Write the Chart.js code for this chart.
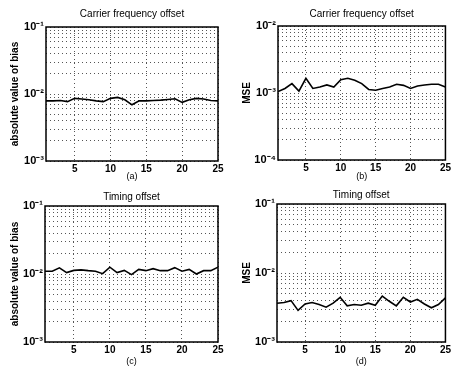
<!DOCTYPE html>
<html>
<head>
<meta charset="utf-8">
<script src="https://cdn.jsdelivr.net/npm/chart.js@4/dist/chart.umd.min.js"></script>
<style>
  html, body { margin: 0; padding: 0; background: #fff; }
  #wrap { position: relative; width: 453px; height: 367px; overflow: hidden; }
  canvas { position: absolute; }
</style>
</head>
<body>
<div id="wrap">
  <canvas id="pa" width="226" height="183" style="left:0;top:0"></canvas>
  <canvas id="pb" width="227" height="183" style="left:226px;top:0"></canvas>
  <canvas id="pc" width="226" height="184" style="left:0;top:183px"></canvas>
  <canvas id="pd" width="227" height="184" style="left:226px;top:183px"></canvas>
</div>
<script>
// data
const snr = [1,2,3,4,5,6,7,8,9,10,11,12,13,14,15,16,17,18,19,20,21,22,23,24,25];
const xTicks = [5, 10, 15, 20, 25];

const cfoBias = [7.9e-3, 7.9e-3, 8.0e-3, 7.7e-3, 8.6e-3, 8.4e-3, 8.2e-3, 7.9e-3, 7.7e-3, 8.6e-3,
                 8.9e-3, 8.2e-3, 6.9e-3, 7.9e-3, 7.9e-3, 8.0e-3, 8.1e-3, 8.3e-3, 8.5e-3, 7.5e-3,
                 8.2e-3, 8.6e-3, 8.4e-3, 8.0e-3, 7.9e-3];
const cfoMse = [1.05e-3, 1.17e-3, 1.38e-3, 1.07e-3, 1.66e-3, 1.17e-3, 1.23e-3, 1.32e-3, 1.23e-3, 1.58e-3,
                1.66e-3, 1.55e-3, 1.38e-3, 1.13e-3, 1.10e-3, 1.17e-3, 1.23e-3, 1.35e-3, 1.30e-3, 1.17e-3,
                1.27e-3, 1.32e-3, 1.35e-3, 1.35e-3, 1.23e-3];
const timBias = [1.10e-2, 1.10e-2, 1.23e-2, 1.05e-2, 1.13e-2, 1.15e-2, 1.12e-2, 1.10e-2, 1.01e-2, 1.26e-2,
                 1.05e-2, 1.13e-2, 0.98e-2, 1.17e-2, 1.12e-2, 1.20e-2, 1.12e-2, 1.12e-2, 1.24e-2, 1.10e-2,
                 1.17e-2, 1.00e-2, 1.12e-2, 1.12e-2, 1.26e-2];
const timMse = [3.65e-3, 3.73e-3, 3.98e-3, 2.87e-3, 3.56e-3, 3.73e-3, 3.49e-3, 3.19e-3, 3.65e-3, 4.44e-3,
                3.34e-3, 3.49e-3, 3.41e-3, 3.65e-3, 3.41e-3, 4.64e-3, 3.89e-3, 3.34e-3, 4.44e-3, 3.80e-3,
                4.16e-3, 3.56e-3, 3.13e-3, 3.49e-3, 4.35e-3];

const FONT = '"Liberation Sans", Arial, Helvetica, sans-serif';
const SUP = { '-': '\u207B', '0': '\u2070', '1': '\u00B9', '2': '\u00B2', '3': '\u00B3', '4': '\u2074' };

function powLabel(v) {
    const e = Math.log10(v);
    if (Math.abs(e - Math.round(e)) > 1e-6) return '';
    return '10' + String(Math.round(e)).split('').map(c => SUP[c]).join('');
}

// black box round the plot area
const boxPlugin = {
    id: 'box',
    afterDatasetsDraw(chart) {
        const a = chart.chartArea, ctx = chart.ctx;
        ctx.save();
        ctx.strokeStyle = '#000';
        ctx.lineWidth = 1.5;
        ctx.strokeRect(a.left, a.top, a.right - a.left, a.bottom - a.top);
        ctx.restore();
    }
};

function makePanel(id, p) {
    const pts = snr.map((x, i) => ({ x: x, y: p.values[i] }));
    const gridOpts = { color: '#555', lineWidth: 1, drawTicks: false };
    return new Chart(document.getElementById(id), {
        type: 'line',
        data: { datasets: [{ data: pts, borderColor: '#000', borderWidth: 1.6, pointRadius: 0, tension: 0, fill: false }] },
        options: {
            responsive: false,
            animation: false,
            layout: { padding: { left: 0, right: p.right, top: 0, bottom: 0 } },
            plugins: {
                legend: { display: false },
                tooltip: { enabled: false },
                title: {
                    display: true, text: p.title, color: '#000', fullSize: false,
                    font: { family: FONT, size: 10, weight: 'normal' },
                    padding: { top: p.tTop, bottom: p.tBot }
                }
            },
            scales: {
                x: {
                    type: 'linear', min: 1, max: 25,
                    afterBuildTicks: s => { s.ticks = xTicks.map(v => ({ value: v })); },
                    afterFit: s => { s.height = p.xH; },
                    grid: gridOpts,
                    border: { display: false, dash: [1, 3] },
                    ticks: { color: '#000', padding: 2, maxRotation: 0, font: { family: FONT, size: 10, weight: 'bold' } },
                    title: { display: true, text: p.caption, color: '#000', padding: { top: 0, bottom: p.cBot }, font: { family: FONT, size: 9 } }
                },
                y: {
                    type: 'logarithmic', min: p.ymin, max: p.ymax,
                    afterBuildTicks: s => {
                        const t = [];
                        for (let e = Math.round(Math.log10(p.ymin)); e < Math.round(Math.log10(p.ymax)); e++) {
                            for (let m = 1; m <= 9; m++) t.push({ value: m * Math.pow(10, e) });
                        }
                        t.push({ value: p.ymax });
                        s.ticks = t;
                    },
                    afterFit: s => { s.width = p.yW; },
                    grid: gridOpts,
                    border: { display: false, dash: [1, 3] },
                    ticks: { color: '#000', padding: 2, autoSkip: false, callback: v => powLabel(v), font: { family: FONT, size: 11, weight: 'bold' } },
                    title: { display: true, text: p.ylabel, color: '#000', padding: { top: p.yPad, bottom: 0 }, font: { family: FONT, size: 10, weight: 'bold' } }
                }
            }
        },
        plugins: [boxPlugin]
    });
}

makePanel('pa', { values: cfoBias, title: 'Carrier frequency offset', caption: '(a)', ylabel: 'absolute value of bias',
    ymin: 1e-3, ymax: 1e-1, right: 8, yW: 46, xH: 22, tTop: 8.5, tBot: 6.5, cBot: 0.6, yPad: 9 });
makePanel('pb', { values: cfoMse, title: 'Carrier frequency offset', caption: '(b)', ylabel: 'MSE',
    ymin: 1e-4, ymax: 1e-2, right: 5, yW: 52, xH: 23, tTop: 8, tBot: 6, cBot: 0.6, yPad: 15 });
makePanel('pc', { values: timBias, title: 'Timing offset', caption: '(c)', ylabel: 'absolute value of bias',
    ymin: 1e-3, ymax: 1e-1, right: 8, yW: 45, xH: 25, tTop: 8, tBot: 3, cBot: 0, yPad: 9 });
makePanel('pd', { values: timMse, title: 'Timing offset', caption: '(d)', ylabel: 'MSE',
    ymin: 1e-3, ymax: 1e-1, right: 4, yW: 51, xH: 25, tTop: 6, tBot: 3, cBot: 0, yPad: 15 });
</script>
</body>
</html>
